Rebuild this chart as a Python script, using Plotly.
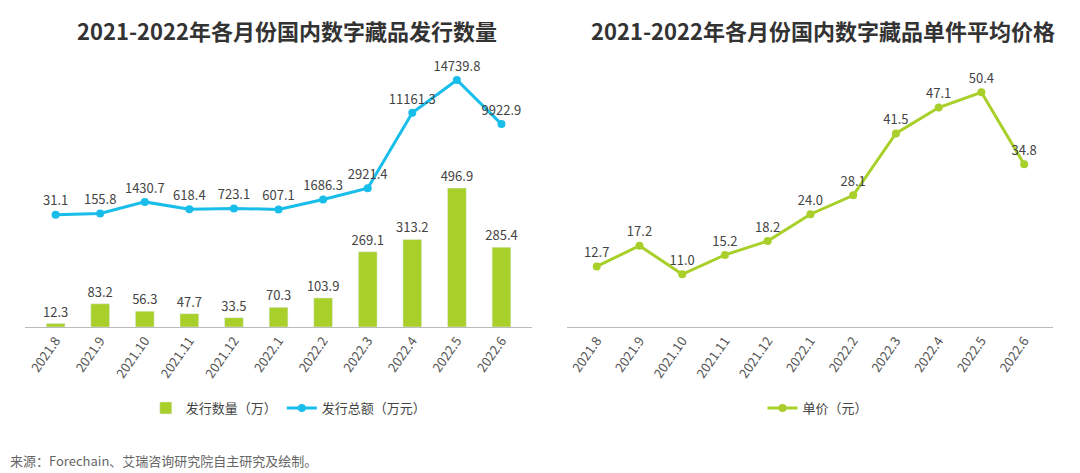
import plotly.graph_objects as go

months = ["2021.8", "2021.9", "2021.10", "2021.11", "2021.12", "2022.1",
          "2022.2", "2022.3", "2022.4", "2022.5", "2022.6"]
issue_count = [12.3, 83.2, 56.3, 47.7, 33.5, 70.3, 103.9, 269.1, 313.2, 496.9, 285.4]
issue_total = [31.1, 155.8, 1430.7, 618.4, 723.1, 607.1, 1686.3, 2921.4, 11161.3, 14739.8, 9922.9]
unit_price = [12.7, 17.2, 11.0, 15.2, 18.2, 24.0, 28.1, 41.5, 47.1, 50.4, 34.8]

green = "#a9d02a"
cyan = "#19bde9"
font = "Noto Sans CJK SC"

H, T, B = 473, 57, 154
PH = H - T - B
OFF = 8


def py(pix):
    # pixel y from top -> paper coordinate
    return (H - B - (pix - OFF)) / PH


fig = go.Figure()
fig.add_trace(go.Bar(
    x=months, y=issue_count, name="发行数量（万）", marker_color=green, width=0.42,
    text=[f"{v:.1f}" for v in issue_count], textposition="outside", textangle=0,
    constraintext="none",
    textfont=dict(size=13, color="#444"), cliponaxis=False,
    xaxis="x", yaxis="y", legend="legend",
))
fig.add_trace(go.Scatter(
    x=months, y=issue_total, name="发行总额（万元）", mode="lines+markers+text",
    line=dict(color=cyan, width=3), marker=dict(size=8, color=cyan),
    text=[f"{v:.1f}" for v in issue_total], textposition="top center",
    textfont=dict(size=13, color="#444"), cliponaxis=False,
    xaxis="x", yaxis="y2", legend="legend",
))
fig.add_trace(go.Scatter(
    x=months, y=unit_price, name="单价（元）", mode="lines+markers+text",
    line=dict(color=green, width=3), marker=dict(size=8, color=green),
    text=[f"{v:.1f}" for v in unit_price], textposition="top center",
    textfont=dict(size=13, color="#444"), cliponaxis=False,
    xaxis="x2", yaxis="y3", legend="legend2",
))

xcommon = dict(type="category", showline=True, linecolor="#bbb", linewidth=1,
               ticks="", tickangle=-55, tickfont=dict(size=13, color="#555"),
               showgrid=False, automargin=False)
fig.update_layout(
    width=1080, height=H,
    margin=dict(l=0, r=0, t=T, b=B, autoexpand=False),
    plot_bgcolor="white", paper_bgcolor="white",
    font=dict(family=font, color="#444"),
    xaxis=dict(domain=[0.016, 0.485], anchor="y", **xcommon),
    yaxis=dict(range=[0, 937], visible=False),
    yaxis2=dict(range=[-12228, 16377], visible=False, overlaying="y"),
    xaxis2=dict(domain=[0.518, 0.968], anchor="y3", **xcommon),
    yaxis3=dict(range=[-0.4, 56.3], visible=False, anchor="x2"),
    legend=dict(orientation="h", x=0.26, y=py(408), xanchor="center", yanchor="middle",
                font=dict(size=13)),
    legend2=dict(orientation="h", x=0.75, y=py(408), xanchor="center", yanchor="middle",
                 font=dict(size=13)),
    annotations=[
        dict(text="<b>2021-2022年各月份国内数字藏品发行数量</b>", x=0.258, y=py(30),
             xref="paper", yref="paper", showarrow=False, xanchor="center",
             yanchor="middle", font=dict(size=22, color="#333")),
        dict(text="<b>2021-2022年各月份国内数字藏品单件平均价格</b>", x=0.755, y=py(30),
             xref="paper", yref="paper", showarrow=False, xanchor="center",
             yanchor="middle", font=dict(size=22, color="#333")),
        dict(text="来源：Forechain、艾瑞咨询研究院自主研究及绘制。", x=0.0, y=py(460),
             xref="paper", yref="paper", showarrow=False, xanchor="left",
             yanchor="middle", font=dict(size=13, color="#666")),
    ],
)

fig.write_html("out.html")
